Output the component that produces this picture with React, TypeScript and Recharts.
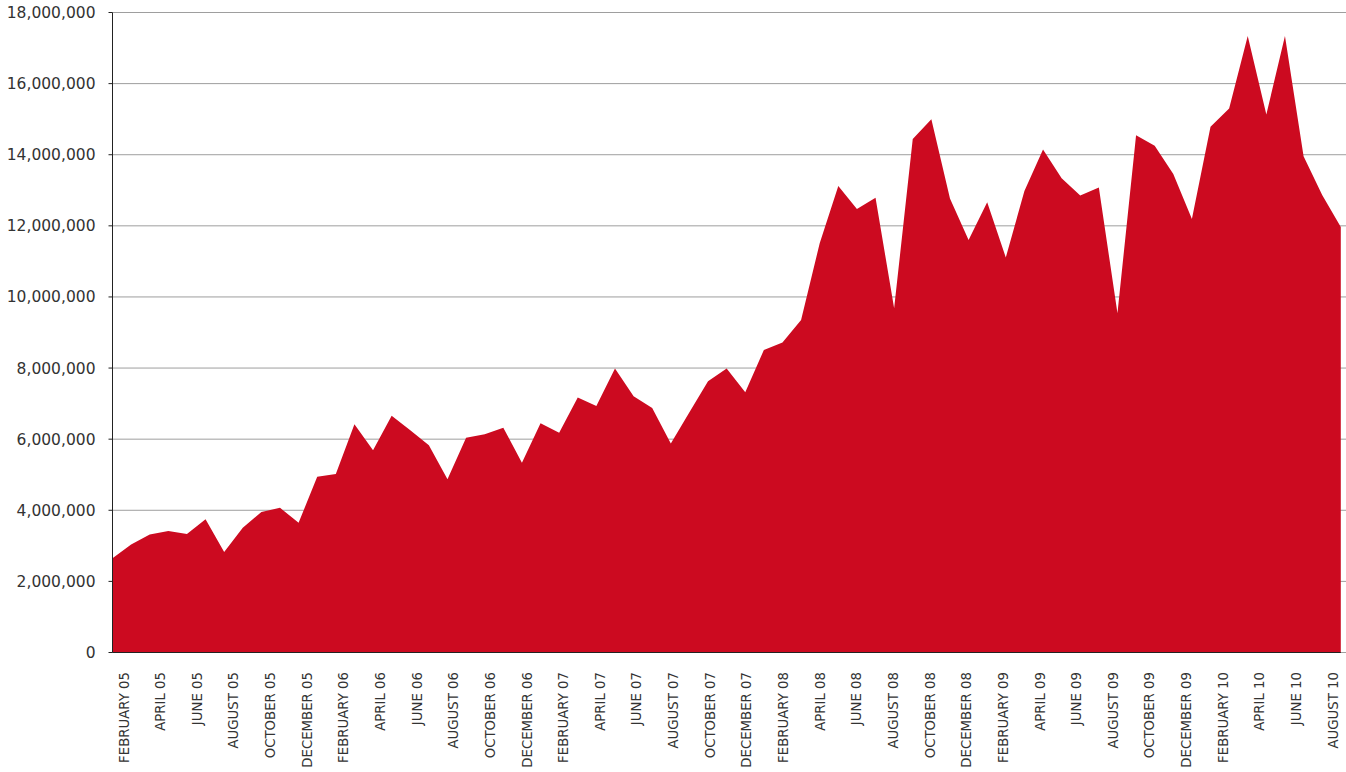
import { AreaChart, Area, XAxis, YAxis, CartesianGrid, ReferenceLine } from "recharts"

// monthly totals, February 2005 to August 2010
const MONTH_LABELS = [
  "FEBRUARY 05", "MARCH 05", "APRIL 05", "MAY 05", "JUNE 05", "JULY 05", "AUGUST 05", "SEPTEMBER 05", "OCTOBER 05", "NOVEMBER 05", "DECEMBER 05",
  "JANUARY 06", "FEBRUARY 06", "MARCH 06", "APRIL 06", "MAY 06", "JUNE 06", "JULY 06", "AUGUST 06", "SEPTEMBER 06", "OCTOBER 06", "NOVEMBER 06", "DECEMBER 06",
  "JANUARY 07", "FEBRUARY 07", "MARCH 07", "APRIL 07", "MAY 07", "JUNE 07", "JULY 07", "AUGUST 07", "SEPTEMBER 07", "OCTOBER 07", "NOVEMBER 07", "DECEMBER 07",
  "JANUARY 08", "FEBRUARY 08", "MARCH 08", "APRIL 08", "MAY 08", "JUNE 08", "JULY 08", "AUGUST 08", "SEPTEMBER 08", "OCTOBER 08", "NOVEMBER 08", "DECEMBER 08",
  "JANUARY 09", "FEBRUARY 09", "MARCH 09", "APRIL 09", "MAY 09", "JUNE 09", "JULY 09", "AUGUST 09", "SEPTEMBER 09", "OCTOBER 09", "NOVEMBER 09", "DECEMBER 09",
  "JANUARY 10", "FEBRUARY 10", "MARCH 10", "APRIL 10", "MAY 10", "JUNE 10", "JULY 10", "AUGUST 10",
]

const VALUES = [
  2650000, 3040000, 3320000, 3420000, 3330000, 3750000, 2830000, 3510000, 3950000, 4070000, 3650000,
  4940000, 5020000, 6420000, 5690000, 6660000, 6250000, 5830000, 4870000, 6040000, 6140000, 6320000, 5340000,
  6450000, 6180000, 7170000, 6930000, 7990000, 7210000, 6880000, 5880000, 6760000, 7630000, 7990000, 7320000,
  8510000, 8720000, 9350000, 11510000, 13120000, 12470000, 12790000, 9680000, 14440000, 15000000, 12770000, 11600000,
  12660000, 11110000, 12980000, 14150000, 13340000, 12850000, 13080000, 9540000, 14550000, 14250000, 13460000, 12190000,
  14790000, 15300000, 17340000, 15130000, 17340000, 13960000, 12870000, 11970000,
]

const Y_TICKS = [0, 2000000, 4000000, 6000000, 8000000, 10000000, 12000000, 14000000, 16000000, 18000000]
// every second month gets a label
const LABEL_TICKS = MONTH_LABELS.map((_, i) => i).filter(i => i % 2 === 0)
// small marks along the bottom axis
const MARK_TICKS = Array.from({ length: 55 }, (_, i) => i)

const data = VALUES.map((value, idx) => ({ idx, value }))

const RED = "#cc0a20"
const TEXT = "#333333"
const FONT = "'DejaVu Sans', sans-serif"

const MonthTick = ({ x, y, payload }: any) => {
  const ty = y + 19.5
  return (
    <text
      x={x}
      y={ty}
      transform={`rotate(-90 ${x} ${ty})`}
      textAnchor="end"
      dominantBaseline="central"
      fill={TEXT}
      fontSize={13.3}
      fontFamily={FONT}
    >
      {MONTH_LABELS[payload.value]}
    </text>
  )
}

export default function App() {
  return (
    <div style={{ position: "absolute", left: 0, top: 0, background: "#fff" }}>
      <AreaChart
        width={1346}
        height={772}
        data={data}
        margin={{ top: 12.5, right: 0, bottom: 0, left: 0 }}
      >
        <CartesianGrid xAxisId="pts" vertical={false} stroke="#9e9e9e" />
        <XAxis xAxisId="pts" dataKey="idx" type="number" domain={[0, 66.28]} allowDataOverflow hide height={0} />
        <XAxis
          xAxisId="marks"
          dataKey="idx"
          type="number"
          domain={[0, 54.22]}
          allowDataOverflow
          ticks={MARK_TICKS}
          interval={0}
          tick={false}
          tickSize={4}
          axisLine={false}
          tickLine={{ stroke: "#222" }}
          height={0}
        />
        <XAxis
          xAxisId="labels"
          dataKey="idx"
          type="number"
          domain={[-0.628, 66.7]}
          allowDataOverflow
          ticks={LABEL_TICKS}
          interval={0}
          tick={<MonthTick />}
          tickSize={0}
          tickMargin={0}
          axisLine={false}
          tickLine={false}
          height={119.5}
        />
        <YAxis
          domain={[0, 18000000]}
          ticks={Y_TICKS}
          interval={0}
          width={112.5}
          tickSize={4}
          tickMargin={13}
          axisLine={{ stroke: "#222" }}
          tickLine={{ stroke: "#222" }}
          tick={{ fill: TEXT, fontSize: 15.5, fontFamily: FONT }}
          tickFormatter={(v: number) => v.toLocaleString("en-US")}
        />
        <Area
          xAxisId="pts"
          type="linear"
          dataKey="value"
          stroke="none"
          fill={RED}
          fillOpacity={1}
          dot={false}
          activeDot={false}
          isAnimationActive={false}
        />
        <ReferenceLine
          xAxisId="pts"
          segment={[{ x: 0, y: 0 }, { x: 66, y: 0 }]}
          stroke="#222"
        />
      </AreaChart>
    </div>
  )
}
